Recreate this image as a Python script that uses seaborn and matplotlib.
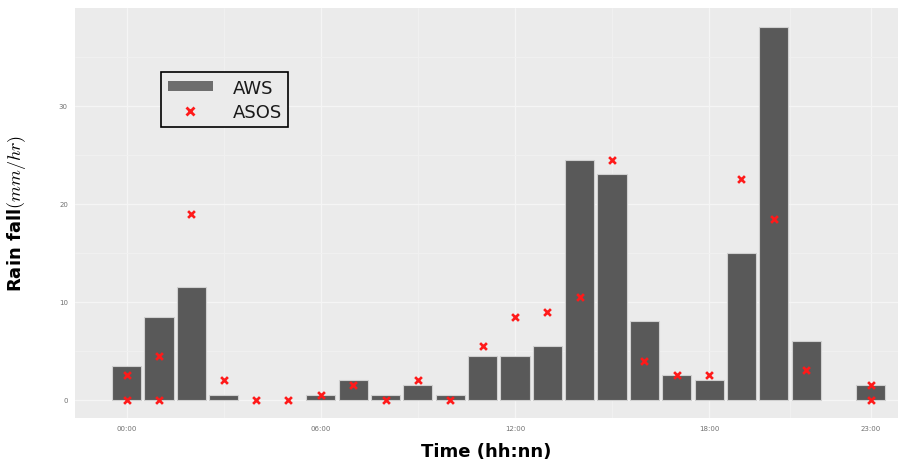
import matplotlib
matplotlib.use("Agg")
import matplotlib.pyplot as plt
import seaborn as sns
import pandas as pd
from matplotlib.patches import Patch
from matplotlib.lines import Line2D

# AWS hourly rainfall (bars); hours 4, 5, 22 have no bar
aws_hours = [0, 1, 2, 3, 6, 7, 8, 9, 10, 11, 12, 13, 14, 15, 16, 17, 18, 19, 20, 21, 23]
aws_values = [3.5, 8.5, 11.5, 0.5, 0.5, 2.0, 0.5, 1.5, 0.5, 4.5, 4.5, 5.5, 24.5, 23.0,
              8.0, 2.5, 2.0, 15.0, 38.0, 6.0, 1.5]

# ASOS observations (red crosses)
asos_hours = [0, 0, 1, 1, 2, 3, 4, 5, 6, 7, 8, 9, 10, 11, 12, 13, 14, 15, 16, 17, 18,
              19, 20, 21, 23, 23]
asos_values = [2.5, 0.0, 4.5, 0.0, 19.0, 2.0, 0.0, 0.0, 0.5, 1.5, 0.0, 2.0, 0.0, 5.5,
               8.5, 9.0, 10.5, 24.5, 4.0, 2.5, 2.5, 22.5, 18.5, 3.0, 1.5, 0.0]

tick_hours = [0, 6, 12, 18, 23]
tick_labels = ["00:00", "06:00", "12:00", "18:00", "23:00"]
y_ticks = [0, 10, 20, 30]

aws_df = pd.DataFrame({"hour": aws_hours, "rain": aws_values})
asos_df = pd.DataFrame({"hour": asos_hours, "rain": asos_values})

sns.set_theme(style="darkgrid")
plt.rcParams["mathtext.fontset"] = "cm"
fig = plt.figure(figsize=(9.02, 4.64), dpi=100)
ax = fig.add_axes([0.083, 0.097, 0.913, 0.884])
ax.set_facecolor("#EBEBEB")

sns.barplot(data=aws_df, x="hour", y="rain", native_scale=True, width=0.9,
            color="#595959", saturation=1, edgecolor="#d0d0d0", linewidth=0.8, ax=ax,
            zorder=2)
sns.scatterplot(data=asos_df, x="hour", y="rain", marker="x", color="#ff1a1a",
                s=24, linewidth=1.9, ax=ax, zorder=3)

ax.set_xlim(-1.6, 23.85)
ax.set_ylim(-1.85, 40)
ax.set_xticks(tick_hours)
ax.set_xticklabels(tick_labels)
ax.set_yticks(y_ticks)
ax.set_xticks([3, 9, 15, 20.5], minor=True)
ax.set_yticks([5, 15, 25, 35], minor=True)
ax.grid(which="major", color="#f5f5f5", linewidth=0.9)
ax.grid(which="minor", color="#f1f1f1", linewidth=0.6)
ax.set_axisbelow(True)
for s in ax.spines.values():
    s.set_visible(False)
ax.tick_params(axis="both", which="major", labelsize=5, labelcolor="#707070",
               length=2, color="#bbbbbb", pad=3)
ax.tick_params(axis="both", which="minor", length=0)

ax.set_xlabel("Time (hh:nn)", fontsize=13, fontweight="bold", labelpad=8,
              color="black")
ax.set_ylabel("Rain fall$(mm/hr)$", fontsize=13, fontweight="bold", labelpad=22,
              color="black")

handles = [Patch(facecolor="#6e6e6e", edgecolor="none"),
           Line2D([], [], marker="x", color="#ff1a1a", linestyle="none",
                  markersize=6, markeredgewidth=2)]
leg = fig.legend(handles, ["AWS", "ASOS"], loc="upper left",
                 bbox_to_anchor=(0.179, 0.842), fontsize=13, frameon=True,
                 fancybox=False, edgecolor="black", facecolor="#EBEBEB",
                 framealpha=1, handlelength=2.5, handleheight=0.45,
                 handletextpad=1.1, borderpad=0.35, labelspacing=0.35,
                 borderaxespad=0)
leg.get_frame().set_linewidth(1.2)
for t in leg.get_texts():
    t.set_color("#1a1a1a")

fig.savefig("out.png", dpi=100)
